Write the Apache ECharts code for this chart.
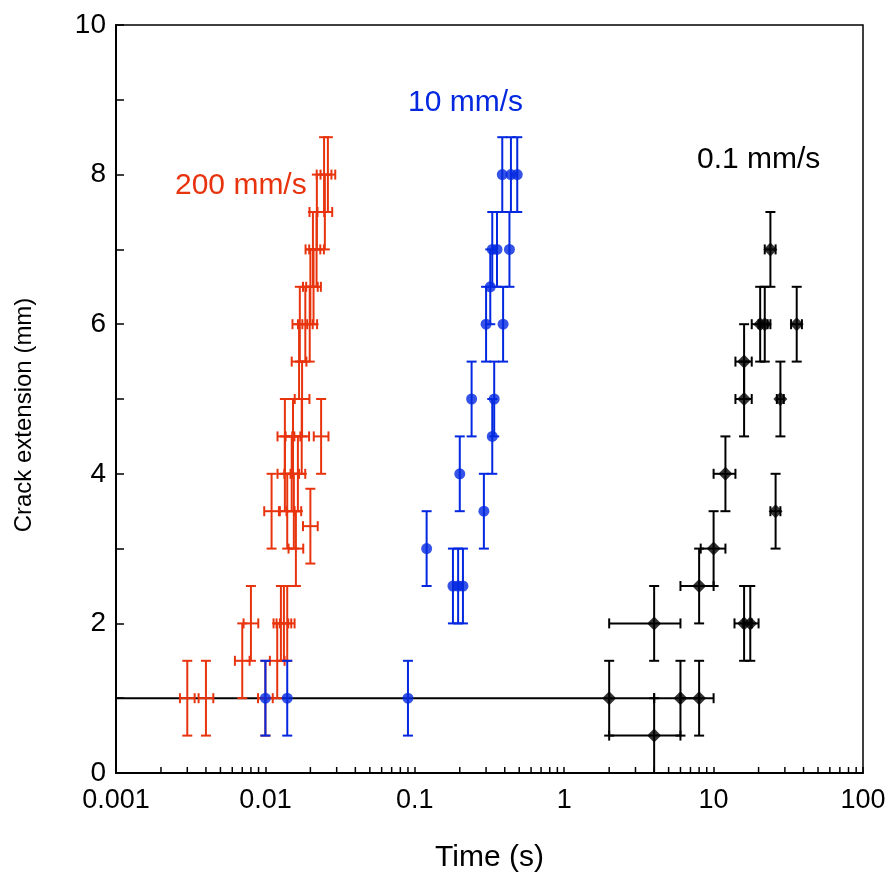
<!DOCTYPE html>
<html><head><meta charset="utf-8">
<script src="https://cdn.jsdelivr.net/npm/echarts@6/dist/echarts.min.js"></script>
<style>html,body{margin:0;padding:0;background:#fff}#c{width:890px;height:879px}</style>
</head><body><div id="c"></div>
<script>
// ---------- data ----------
const xTickLabels = ['0.001', '0.01', '0.1', '1', '10', '100'];
const yTickLabels = ['0', '2', '4', '6', '8', '10'];
const seriesNames = ['200 mm/s', '10 mm/s', '0.1 mm/s'];

// 200 mm/s : [time (s), crack extension (mm)]
const red200 = [
  [0.003, 1], [0.004, 1], [0.01, 1],
  [0.007, 1.5], [0.012, 1.5],
  [0.008, 2], [0.0127, 2], [0.0133, 2], [0.014, 2],
  [0.016, 3.0], [0.02, 3.3],
  [0.011, 3.5], [0.014, 3.5], [0.0155, 3.5],
  [0.0135, 4], [0.015, 4], [0.0165, 4],
  [0.0135, 4.5], [0.0153, 4.5], [0.0175, 4.5], [0.0236, 4.5],
  [0.0176, 5], [0.0168, 5.5],
  [0.017, 6], [0.0185, 6], [0.0198, 6],
  [0.02, 6.5], [0.021, 6.5],
  [0.0208, 7], [0.022, 7],
  [0.0221, 7.5], [0.025, 7.5],
  [0.0247, 8], [0.0262, 8]
];
const redTimeRelErr = 0.12;   // relative time uncertainty
const crackErr = 0.5;         // +/- crack extension uncertainty (mm)

// 10 mm/s
const blue10 = [
  [0.01, 1], [0.014, 1], [0.09, 1],
  [0.12, 3], [0.18, 2.5], [0.195, 2.5], [0.21, 2.5],
  [0.2, 4], [0.29, 3.5], [0.24, 5], [0.34, 5], [0.33, 4.5],
  [0.30, 6], [0.39, 6], [0.32, 6.5],
  [0.33, 7], [0.355, 7], [0.43, 7],
  [0.385, 8], [0.44, 8], [0.485, 8]
];

// 0.1 mm/s : [time, crack, timeLow, timeHigh]
const black01 = [
  [2, 1, 0.001, 4], [6, 1, 4, 8], [8, 1, 6, 10],
  [4, 0.5, 2, 6], [4, 2, 2, 6],
  [8, 2.5, 6, 10], [10, 3, 8.2, 12], [12, 4, 10, 14],
  [16, 5, 14, 18], [16, 5.5, 14, 18],
  [16, 2, 13.8, 18], [17.6, 2, 15.8, 20],
  [20.5, 6, 18, 23], [22, 6, 20, 24],
  [24, 7, 22, 26], [36, 6, 33, 39],
  [28, 5, 26.5, 29.5], [26, 3.5, 24, 28]
];

// ---------- build ----------
const RED = '#e8340e', BLUE = '#0328e0', BLACK = '#000';

const redErr = red200.map(p => [p[0], p[1], p[0] / (1 + redTimeRelErr), p[0] * (1 + redTimeRelErr), p[1] - crackErr, p[1] + crackErr]);
const blueErr = blue10.map(p => [p[0], p[1], p[0], p[0], p[1] - crackErr, p[1] + crackErr]);
const blackErr = black01.map(p => [p[0], p[1], p[2], p[3], Math.max(0, p[1] - crackErr), p[1] + crackErr]);

function errRender(color, capW, lw) {
  return function (params, api) {
    const x = api.value(0), y = api.value(1), xl = api.value(2), xh = api.value(3), yl = api.value(4), yh = api.value(5);
    const c = api.coord([x, y]);
    const pyl = api.coord([x, yl])[1], pyh = api.coord([x, yh])[1];
    const pxl = api.coord([xl, y])[0], pxh = api.coord([xh, y])[0];
    const st = { stroke: color, lineWidth: lw, fill: null };
    const h = capW / 2;
    const ch = [
      { type: 'line', shape: { x1: c[0], y1: pyl, x2: c[0], y2: pyh }, style: st },
      { type: 'line', shape: { x1: c[0] - h, y1: pyl, x2: c[0] + h, y2: pyl }, style: st },
      { type: 'line', shape: { x1: c[0] - h, y1: pyh, x2: c[0] + h, y2: pyh }, style: st }
    ];
    if (xh !== xl) {
      ch.push({ type: 'line', shape: { x1: pxl, y1: c[1], x2: pxh, y2: c[1] }, style: st });
      ch.push({ type: 'line', shape: { x1: pxl, y1: c[1] - h, x2: pxl, y2: c[1] + h }, style: st });
      ch.push({ type: 'line', shape: { x1: pxh, y1: c[1] - h, x2: pxh, y2: c[1] + h }, style: st });
    }
    return { type: 'group', children: ch };
  };
}

const minorTicks = [];
for (let d = -3; d < 2; d++) for (let k = 2; k <= 9; k++) minorTicks.push([k * Math.pow(10, d), 0]);

const FONT = 'Liberation Sans, Arial, Helvetica, sans-serif';

const chart = echarts.init(document.getElementById('c'), null, { renderer: 'canvas' });
chart.setOption({
  animation: false,
  backgroundColor: '#fff',
  grid: { left: 116, right: 27, top: 25, bottom: 106, show: true, borderColor: '#000', borderWidth: 1.5, backgroundColor: 'transparent' },
  xAxis: {
    type: 'log', logBase: 10, min: 0.001, max: 100,
    name: 'Time (s)', nameLocation: 'middle', nameGap: 70,
    nameTextStyle: { fontFamily: FONT, fontSize: 30, color: '#000' },
    axisLine: { lineStyle: { color: '#000', width: 2 } },
    axisTick: { inside: true, length: 6, lineStyle: { color: '#000', width: 1.5 } },
    splitLine: { show: false },
    axisLabel: {
      fontFamily: FONT, fontSize: 27, color: '#000', margin: 14,
      formatter: v => xTickLabels[Math.round(Math.log10(v)) + 3] || ''
    }
  },
  yAxis: {
    type: 'value', min: 0, max: 10, interval: 1,
    name: 'Crack extension (mm)', nameLocation: 'middle', nameGap: 80, nameRotate: 90,
    nameTextStyle: { fontFamily: FONT, fontSize: 24, color: '#000', padding: [0, 32, 0, 0] },
    axisLine: { lineStyle: { color: '#000', width: 2 } },
    axisTick: { inside: true, length: 8, lineStyle: { color: '#000', width: 1.5 } },
    splitLine: { show: false },
    axisLabel: {
      fontFamily: FONT, fontSize: 28, color: '#000', margin: 10,
      formatter: v => yTickLabels.indexOf(String(v)) >= 0 ? String(v) : ''
    }
  },
  graphic: [
    { type: 'text', left: 175, top: 171, style: { text: seriesNames[0], fill: RED, font: '30px ' + FONT } },
    { type: 'text', left: 408, top: 88, style: { text: seriesNames[1], fill: BLUE, font: '30px ' + FONT } },
    { type: 'text', left: 697, top: 145, style: { text: seriesNames[2], fill: BLACK, font: '30px ' + FONT } }
  ],
  series: [
    { type: 'custom', name: 'ticks', data: minorTicks, clip: false, silent: true, z: 1,
      renderItem: (params, api) => {
        const p = api.coord([api.value(0), 0]);
        return { type: 'line', shape: { x1: p[0], y1: p[1], x2: p[0], y2: p[1] - 6 }, style: { stroke: '#000', lineWidth: 1.5 } };
      } },
    { type: 'custom', name: seriesNames[2] + ' err', data: blackErr, clip: true, z: 2, renderItem: errRender(BLACK, 10, 2) },
    { type: 'scatter', name: seriesNames[2], data: black01.map(p => [p[0], p[1]]), symbol: 'diamond', symbolSize: [14, 14], itemStyle: { color: BLACK }, z: 3 },
    { type: 'custom', name: seriesNames[0] + ' err', data: redErr, clip: true, z: 4, renderItem: errRender(RED, 10, 2) },
    { type: 'custom', name: seriesNames[1] + ' err', data: blueErr, clip: true, z: 5, renderItem: errRender(BLUE, 10, 2) },
    { type: 'scatter', name: seriesNames[1], data: blue10, symbol: 'circle', symbolSize: 11, itemStyle: { color: BLUE }, z: 6 }
  ]
});
</script></body></html>
